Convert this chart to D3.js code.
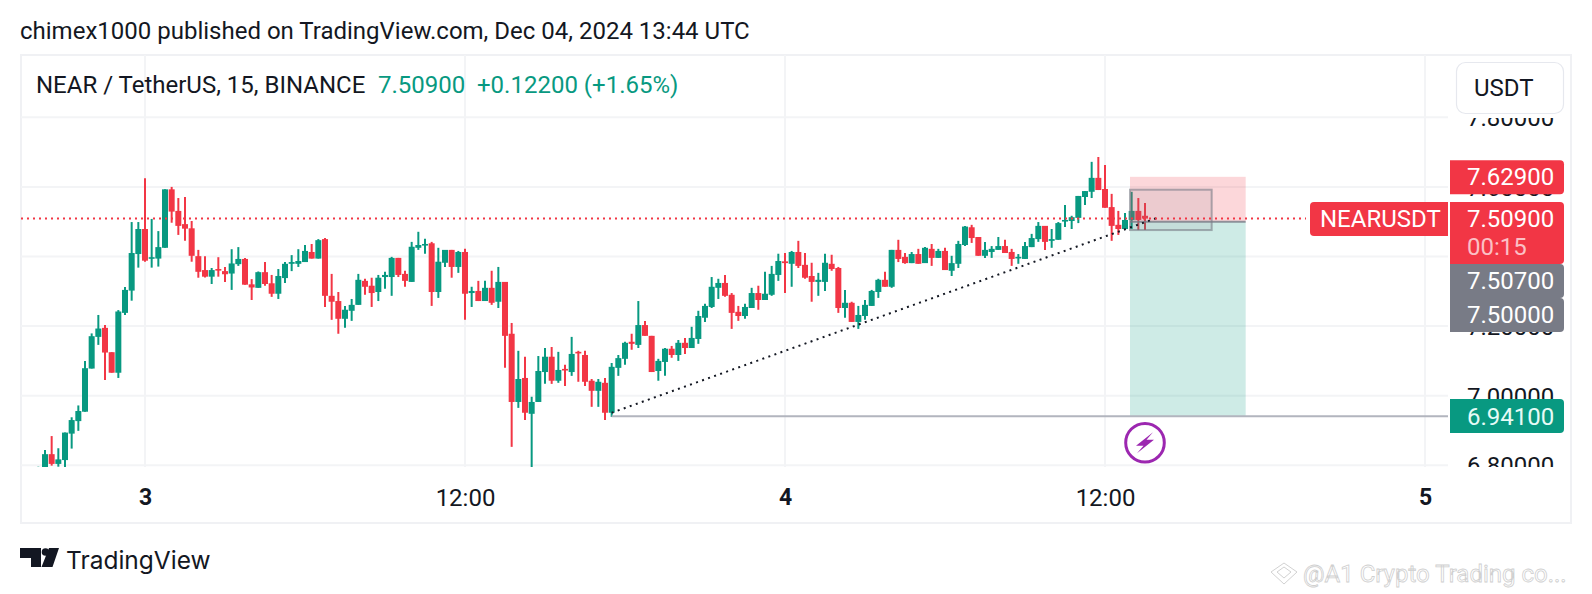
<!DOCTYPE html>
<html><head><meta charset="utf-8">
<script src="https://cdn.jsdelivr.net/npm/d3@7/dist/d3.min.js"></script>
<style>html,body{margin:0;padding:0;background:#fff;overflow:hidden}svg{display:block}text{font-family:Roboto,sans-serif}</style>
</head><body><svg id="c" width="1592" height="594"></svg>
<script>
const firstIndex = -16; // 15-minute bars counted from Dec 3 00:00
const opens = [6.77,6.794,6.832,6.804,6.815,6.891,6.927,6.954,7.078,7.169,
7.195,7.125,7.066,7.238,7.302,7.407,7.479,7.394,7.394,7.425,
7.593,7.531,7.493,7.481,7.401,7.361,7.342,7.364,7.358,7.351,
7.378,7.393,7.320,7.310,7.355,7.323,7.293,7.338,7.379,7.379,
7.384,7.413,7.394,7.450,7.287,7.272,7.221,7.244,7.261,7.330,
7.316,7.298,7.341,7.341,7.396,7.350,7.327,7.425,7.433,7.438,
7.298,7.382,7.419,7.370,7.413,7.295,7.301,7.272,7.310,7.270,
7.327,7.178,6.982,7.051,6.948,6.982,7.068,7.112,7.043,7.077,
7.068,7.126,7.117,7.043,7.014,7.037,6.951,7.080,7.106,7.155,
7.146,7.203,7.172,7.071,7.097,7.135,7.117,7.152,7.137,7.163,
7.224,7.255,7.310,7.324,7.290,7.241,7.229,7.252,7.295,7.275,
7.290,7.347,7.386,7.379,7.413,7.376,7.344,7.327,7.327,7.379,
7.367,7.252,7.267,7.212,7.229,7.258,7.298,7.333,7.313,7.419,
7.399,7.381,7.407,7.381,7.422,7.396,7.416,7.359,7.379,7.433,
7.484,7.456,7.402,7.413,7.419,7.430,7.413,7.396,7.393,7.427,
7.450,7.488,7.445,7.448,7.502,7.502,7.511,7.571,7.586,7.626,
7.594,7.542,7.491,7.479,7.505,7.531,7.517];
const closes = [6.78,6.832,6.804,6.817,6.894,6.930,6.956,7.079,7.171,7.193,
7.124,7.066,7.242,7.304,7.410,7.479,7.388,7.398,7.427,7.593,
7.529,7.488,7.480,7.402,7.356,7.342,7.361,7.360,7.349,7.380,
7.393,7.319,7.311,7.355,7.321,7.293,7.344,7.379,7.384,7.387,
7.416,7.394,7.447,7.287,7.270,7.221,7.247,7.261,7.333,7.313,
7.295,7.339,7.347,7.396,7.347,7.330,7.428,7.433,7.436,7.298,
7.385,7.419,7.370,7.413,7.293,7.301,7.272,7.310,7.267,7.327,
7.172,6.982,7.048,6.951,6.982,7.071,7.112,7.043,7.074,7.074,
7.120,7.122,7.040,7.014,7.040,6.951,7.083,7.108,7.152,7.149,
7.203,7.172,7.068,7.100,7.135,7.117,7.152,7.137,7.166,7.229,
7.258,7.313,7.324,7.287,7.238,7.229,7.255,7.295,7.275,7.293,
7.350,7.387,7.381,7.413,7.373,7.339,7.327,7.333,7.382,7.364,
7.252,7.267,7.212,7.232,7.261,7.301,7.333,7.313,7.419,7.393,
7.381,7.407,7.379,7.425,7.396,7.416,7.361,7.381,7.436,7.486,
7.453,7.402,7.419,7.422,7.430,7.410,7.393,7.399,7.430,7.453,
7.488,7.442,7.450,7.496,7.505,7.513,7.574,7.588,7.626,7.591,
7.540,7.488,7.479,7.505,7.531,7.505,7.509];
const highs = [6.796,6.844,6.884,6.849,6.894,6.938,6.972,7.100,7.179,7.232,
7.203,7.125,7.246,7.312,7.499,7.499,7.625,7.508,7.473,7.593,
7.600,7.568,7.571,7.502,7.419,7.401,7.367,7.398,7.370,7.421,
7.427,7.396,7.335,7.357,7.384,7.347,7.364,7.384,7.404,7.421,
7.433,7.436,7.450,7.453,7.350,7.298,7.258,7.278,7.350,7.336,
7.339,7.347,7.356,7.399,7.396,7.359,7.442,7.471,7.451,7.442,
7.425,7.419,7.419,7.416,7.422,7.313,7.330,7.330,7.359,7.370,
7.327,7.209,7.129,7.112,6.997,7.114,7.137,7.140,7.126,7.089,
7.169,7.129,7.129,7.048,7.048,7.051,7.094,7.117,7.155,7.178,
7.272,7.215,7.172,7.106,7.137,7.143,7.160,7.166,7.198,7.244,
7.264,7.341,7.336,7.347,7.295,7.258,7.264,7.310,7.316,7.356,
7.373,7.408,7.410,7.416,7.445,7.410,7.382,7.353,7.408,7.405,
7.370,7.304,7.270,7.258,7.275,7.304,7.336,7.356,7.419,7.448,
7.410,7.413,7.422,7.427,7.436,7.422,7.425,7.402,7.445,7.488,
7.491,7.456,7.442,7.430,7.456,7.448,7.422,7.407,7.442,7.465,
7.499,7.488,7.479,7.499,7.548,7.517,7.574,7.588,7.672,7.686,
7.663,7.580,7.531,7.525,7.586,7.568,7.554];
const lows = [6.74,6.78,6.799,6.796,6.791,6.848,6.899,6.954,7.078,7.146,
7.045,7.066,7.051,7.232,7.273,7.368,7.385,7.368,7.371,7.425,
7.497,7.462,7.445,7.385,7.339,7.340,7.321,7.342,7.327,7.304,
7.373,7.319,7.275,7.310,7.316,7.284,7.278,7.324,7.358,7.370,
7.384,7.394,7.394,7.255,7.218,7.178,7.195,7.215,7.261,7.290,
7.255,7.272,7.307,7.287,7.341,7.313,7.327,7.419,7.408,7.258,
7.281,7.370,7.339,7.353,7.218,7.255,7.272,7.272,7.261,7.252,
7.080,6.853,6.965,6.930,6.794,6.982,7.034,7.034,7.037,7.028,
7.057,7.040,7.028,6.968,6.968,6.930,6.939,7.057,7.089,7.132,
7.137,7.172,7.068,7.043,7.057,7.109,7.100,7.120,7.137,7.149,
7.212,7.252,7.278,7.284,7.192,7.215,7.221,7.252,7.247,7.275,
7.287,7.330,7.295,7.313,7.367,7.336,7.270,7.287,7.301,7.359,
7.238,7.224,7.212,7.192,7.218,7.258,7.281,7.313,7.310,7.384,
7.379,7.381,7.379,7.381,7.373,7.396,7.361,7.344,7.367,7.430,
7.439,7.402,7.396,7.396,7.419,7.410,7.373,7.379,7.393,7.427,
7.442,7.419,7.425,7.448,7.485,7.479,7.496,7.548,7.568,7.591,
7.540,7.445,7.462,7.479,7.479,7.476,7.476];
const priceTicks = [6.8,7.0,7.2,7.4,7.6,7.8];
const timeTickIndex = [0,48,96,144,192];
const timeTickLabels = ["3","12:00","4","12:00","5"];
const lastPrice = 7.509;
const stopPrice = 7.629, entryPrice = 7.5, targetPrice = 6.941, markPrice = 7.507;
const zoneIndex = [147.75,165.1];
const boxIndex = [147.75,160], boxPrice = [7.592,7.476];
const trendIndex = [70,152.25], trendPrice = [6.951,7.514];
const targetLineStartIndex = 70;

const RED="#f23645", GREEN="#089981", GRAY="#787b86", INK="#131722", GRID="#f3f4f6";
const svg=d3.select("#c");
const x=d3.scaleLinear().domain([0,96]).range([145,785]);
const y=d3.scaleLinear().domain([6.8,7.8]).range([465.3,117.3]);
const pane={l:21,r:1448,t:55,b:467};

const bars=opens.map((o,i)=>({i:i+firstIndex,o,c:closes[i],h:highs[i],l:lows[i]}));

svg.append("clipPath").attr("id","pane").append("rect")
  .attr("x",pane.l).attr("y",pane.t).attr("width",pane.r-pane.l).attr("height",pane.b-pane.t);
svg.append("clipPath").attr("id","axisclip").append("rect")
  .attr("x",pane.r).attr("y",118).attr("width",1571-pane.r).attr("height",pane.b-118);

// header
svg.append("text").attr("x",20).attr("y",38.5).attr("font-size",24).attr("fill",INK)
  .text("chimex1000 published on TradingView.com, Dec 04, 2024 13:44 UTC");

// frame
svg.append("rect").attr("x",21).attr("y",55).attr("width",1550).attr("height",468)
  .attr("fill","none").attr("stroke","#f0f1f4").attr("stroke-width",2);

// grid
const grid=svg.append("g");
grid.selectAll("line.h").data(priceTicks).join("line").attr("class","h")
  .attr("x1",pane.l).attr("x2",pane.r).attr("y1",y).attr("y2",y)
  .attr("stroke",GRID).attr("stroke-width",2);
grid.selectAll("line.v").data(timeTickIndex).join("line").attr("class","v")
  .attr("x1",d=>x(d)).attr("x2",d=>x(d)).attr("y1",pane.t).attr("y2",pane.b)
  .attr("stroke",GRID).attr("stroke-width",2);

// candles
const gc=svg.append("g").attr("clip-path","url(#pane)");
gc.selectAll("line.w").data(bars).join("line").attr("class","w")
  .attr("x1",d=>x(d.i)).attr("x2",d=>x(d.i)).attr("y1",d=>y(d.h)).attr("y2",d=>y(d.l))
  .attr("stroke",d=>d.c>=d.o?GREEN:RED).attr("stroke-width",2);
gc.selectAll("rect.b").data(bars).join("rect").attr("class","b")
  .attr("x",d=>x(d.i)-3).attr("width",6)
  .attr("y",d=>y(Math.max(d.o,d.c)))
  .attr("height",d=>Math.max(1.6,Math.abs(y(d.o)-y(d.c))))
  .attr("fill",d=>d.c>=d.o?GREEN:RED);

// position zones
const ann=svg.append("g").attr("clip-path","url(#pane)");
ann.append("rect").attr("x",x(zoneIndex[0])).attr("width",x(zoneIndex[1])-x(zoneIndex[0]))
  .attr("y",y(stopPrice)).attr("height",y(entryPrice)-y(stopPrice)).attr("fill",RED).attr("fill-opacity",.2);
ann.append("rect").attr("x",x(zoneIndex[0])).attr("width",x(zoneIndex[1])-x(zoneIndex[0]))
  .attr("y",y(entryPrice)).attr("height",y(targetPrice)-y(entryPrice)).attr("fill",GREEN).attr("fill-opacity",.2);
ann.append("rect").attr("x",x(boxIndex[0])).attr("width",x(boxIndex[1])-x(boxIndex[0]))
  .attr("y",y(boxPrice[0])).attr("height",y(boxPrice[1])-y(boxPrice[0]))
  .attr("fill",GRAY).attr("fill-opacity",.12).attr("stroke",GRAY).attr("stroke-opacity",.6).attr("stroke-width",2);
ann.append("line").attr("x1",x(zoneIndex[0])).attr("x2",x(zoneIndex[1])).attr("y1",y(entryPrice)).attr("y2",y(entryPrice))
  .attr("stroke",GRAY).attr("stroke-opacity",.8).attr("stroke-width",2);
// target line
ann.append("line").attr("x1",x(targetLineStartIndex)).attr("x2",pane.r).attr("y1",y(targetPrice)).attr("y2",y(targetPrice))
  .attr("stroke","#b2b5be").attr("stroke-width",2);
// trend line
ann.append("line").attr("x1",x(trendIndex[0])).attr("x2",x(trendIndex[1])).attr("y1",y(trendPrice[0])).attr("y2",y(trendPrice[1]))
  .attr("stroke","#131722").attr("stroke-width",2).attr("stroke-dasharray","2 4.4");
// last price line
ann.append("line").attr("x1",pane.l).attr("x2",1306).attr("y1",y(lastPrice)).attr("y2",y(lastPrice))
  .attr("stroke",RED).attr("stroke-width",2).attr("stroke-dasharray","2 4");

// purple marker
const mk=svg.append("g").attr("transform","translate(1145,442.7)");
mk.append("circle").attr("r",19.3).attr("fill","#fff").attr("stroke","#9c27b0").attr("stroke-width",3);
mk.append("path").attr("d","M8,-10.5 L-9,3 L-1.5,3 L-8,10.5 L9,-3 L1.5,-3 Z").attr("fill","#9c27b0");

// price axis
const yAxis=d3.axisRight(y).tickValues(priceTicks).tickSize(0).tickPadding(0).tickFormat(d3.format(".5f"));
const ga=svg.append("g").attr("clip-path","url(#axisclip)").append("g").attr("transform","translate(1467,0)").call(yAxis);
ga.select(".domain").remove();
ga.selectAll("text").attr("font-size",24).attr("fill",INK).attr("dy",".36em");

// time axis
const xAxis=d3.axisBottom(x).tickValues(timeTickIndex).tickSize(0).tickPadding(0)
  .tickFormat((d,i)=>timeTickLabels[i]);
const gx=svg.append("g").attr("transform","translate(0,497)").call(xAxis);
gx.select(".domain").remove();
gx.selectAll("text").attr("fill",INK).attr("dy",".36em").attr("y",0)
  .attr("font-size",(d,i)=>timeTickLabels[i].includes(":")?24:23)
  .attr("font-weight",(d,i)=>timeTickLabels[i].includes(":")?400:700);

// USDT button
svg.append("rect").attr("x",1456.5).attr("y",62.5).attr("width",107).attr("height",51).attr("rx",9)
  .attr("fill","#fff").attr("stroke","#e6e8ee").attr("stroke-width",1.2);
svg.append("text").attr("x",1474).attr("y",95.5).attr("font-size",24).attr("fill",INK).text("USDT");

// price labels
function priceLabel(top,h,fill,r){
  svg.append("path").attr("fill",fill).attr("d",
   `M1450,${top}H${1564-r}Q1564,${top} 1564,${top+r}V${top+h-r}Q1564,${top+h} ${1564-r},${top+h}H1450Z`);
}
const labelFmt=d3.format(".5f");
const cy=v=>y(v);
priceLabel(cy(stopPrice)-16.5,34,RED,4);
svg.append("text").attr("x",1467).attr("y",cy(stopPrice)+8).attr("font-size",24).attr("fill","#fff").text(labelFmt(stopPrice));
priceLabel(264,34,GRAY,4);
priceLabel(298,34,GRAY,4);
svg.append("text").attr("x",1467).attr("y",289).attr("font-size",24).attr("fill","#fff").text(labelFmt(markPrice));
svg.append("text").attr("x",1467).attr("y",323).attr("font-size",24).attr("fill","#fff").text(labelFmt(entryPrice));
priceLabel(202,62,RED,4);
svg.append("text").attr("x",1467).attr("y",227).attr("font-size",24).attr("fill","#fff").text(labelFmt(lastPrice));
svg.append("text").attr("x",1467).attr("y",255).attr("font-size",24).attr("fill","#fbc0c5").text("00:15");
priceLabel(399,34,GREEN,4);
svg.append("text").attr("x",1467).attr("y",424.5).attr("font-size",24).attr("fill","#e6fbf6").text(labelFmt(targetPrice));
// symbol tag
svg.append("path").attr("fill",RED).attr("d","M1448,202V236H1314Q1310,236 1310,232V206Q1310,202 1314,202Z");
svg.append("text").attr("x",1320).attr("y",227).attr("font-size",24).attr("fill","#fff").text("NEARUSDT");

// legend
svg.append("text").attr("x",36).attr("y",92.5).attr("font-size",24).attr("fill",INK).text("NEAR / TetherUS, 15, BINANCE");
svg.append("text").attr("x",378).attr("y",92.5).attr("font-size",24).attr("fill",GREEN).text(labelFmt(lastPrice));
svg.append("text").attr("x",477).attr("y",92.5).attr("font-size",24).attr("fill",GREEN).text("+0.12200 (+1.65%)");

// logo
svg.append("path").attr("fill",INK).attr("d","M20,548H41V567H31V558H20Z M49,548H59L52.5,567H41.5Z");
svg.append("circle").attr("cx",45.5).attr("cy",552).attr("r",3.8).attr("fill",INK);
svg.append("text").attr("x",66).attr("y",569).attr("font-size",24.5).attr("fill",INK).style("font-family","Inter,Roboto,sans-serif").text("TradingView");

// watermark
svg.append("path").attr("fill","none").attr("stroke","#d2d2d2").attr("stroke-width",1)
  .attr("d","M1271,572L1284,563L1297,572L1284,584Z M1277,572L1284,567L1291,572L1284,578Z");
svg.append("text").attr("x",1303).attr("y",582).attr("font-size",24).attr("fill","#fff").attr("stroke","#cfcfcf").attr("stroke-width",.8)
  .text("@A1 Crypto Trading co...");
</script></body></html>
